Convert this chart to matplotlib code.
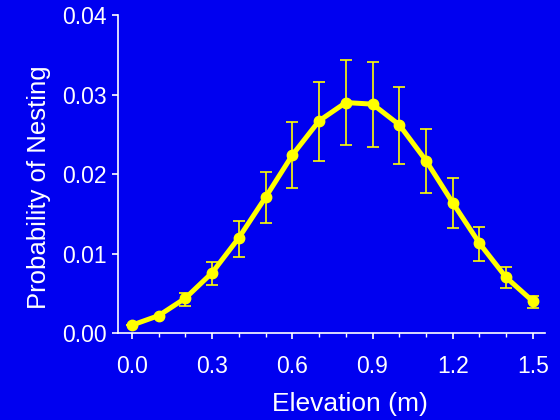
import numpy as np
import matplotlib.pyplot as plt

elev = [0.0, 0.1, 0.2, 0.3, 0.4, 0.5, 0.6, 0.7, 0.8, 0.9, 1.0, 1.1, 1.2, 1.3, 1.4, 1.5]
prob = [0.0010, 0.0022, 0.0044, 0.0076, 0.0120, 0.0171, 0.0224, 0.0267, 0.0290,
        0.0288, 0.0262, 0.0217, 0.0164, 0.0113, 0.0070, 0.0040]
upper = [0.0010, 0.0022, 0.0051, 0.0089, 0.0141, 0.0203, 0.0266, 0.0316, 0.0343,
         0.0341, 0.0310, 0.0257, 0.0195, 0.0134, 0.0083, 0.0047]
lower = [0.0010, 0.0022, 0.0034, 0.0060, 0.0096, 0.0139, 0.0182, 0.0217, 0.0236,
         0.0234, 0.0213, 0.0176, 0.0132, 0.0091, 0.0057, 0.0032]

plt.rcParams['font.family'] = ['Liberation Sans', 'DejaVu Sans']
bg = '#0000f0'
fg = 'white'
yel = '#ffff00'

fig = plt.figure(figsize=(5.6, 4.2), dpi=100, facecolor=bg)
ax = fig.add_axes([0.211, 0.207, 0.762, 0.757], facecolor=bg)

p = np.array(prob)
yerr = [p - np.array(lower), np.array(upper) - p]
ax.errorbar(elev, prob, yerr=yerr, fmt='none', ecolor=yel, elinewidth=1.2, capsize=4, capthick=1.2)
ax.plot(elev, prob, color=yel, lw=3.6, marker='o', ms=7.5, zorder=3)

ax.set_xlim(-0.052, 1.545)
ax.set_ylim(0, 0.04)
ax.set_xticks([0.0, 0.3, 0.6, 0.9, 1.2, 1.5])
ax.set_xticks(elev, minor=True)
ax.set_yticks([0.0, 0.01, 0.02, 0.03, 0.04])
ax.set_xticklabels(['0.0', '0.3', '0.6', '0.9', '1.2', '1.5'])
ax.set_yticklabels(['0.00', '0.01', '0.02', '0.03', '0.04'])

for s in ['top', 'right']:
    ax.spines[s].set_visible(False)
for s in ['left', 'bottom']:
    ax.spines[s].set_color(fg)
    ax.spines[s].set_linewidth(1.2)

ax.tick_params(colors=fg, labelsize=16.5, length=4, width=1.2, direction='out')
ax.tick_params(axis='x', which='minor', colors=fg, length=3, width=1)
ax.tick_params(axis='x', pad=12)
ax.tick_params(axis='y', pad=4)

ax.set_xlabel('Elevation (m)', color=fg, fontsize=19)
ax.set_ylabel('Probability of Nesting', color=fg, fontsize=18.5)
# labels sit a bit off centre in the original
ax.xaxis.set_label_coords(0.543, -0.185)
ax.yaxis.set_label_coords(-0.158, 0.4575)

fig.savefig('out.png', dpi=100, facecolor=bg)
